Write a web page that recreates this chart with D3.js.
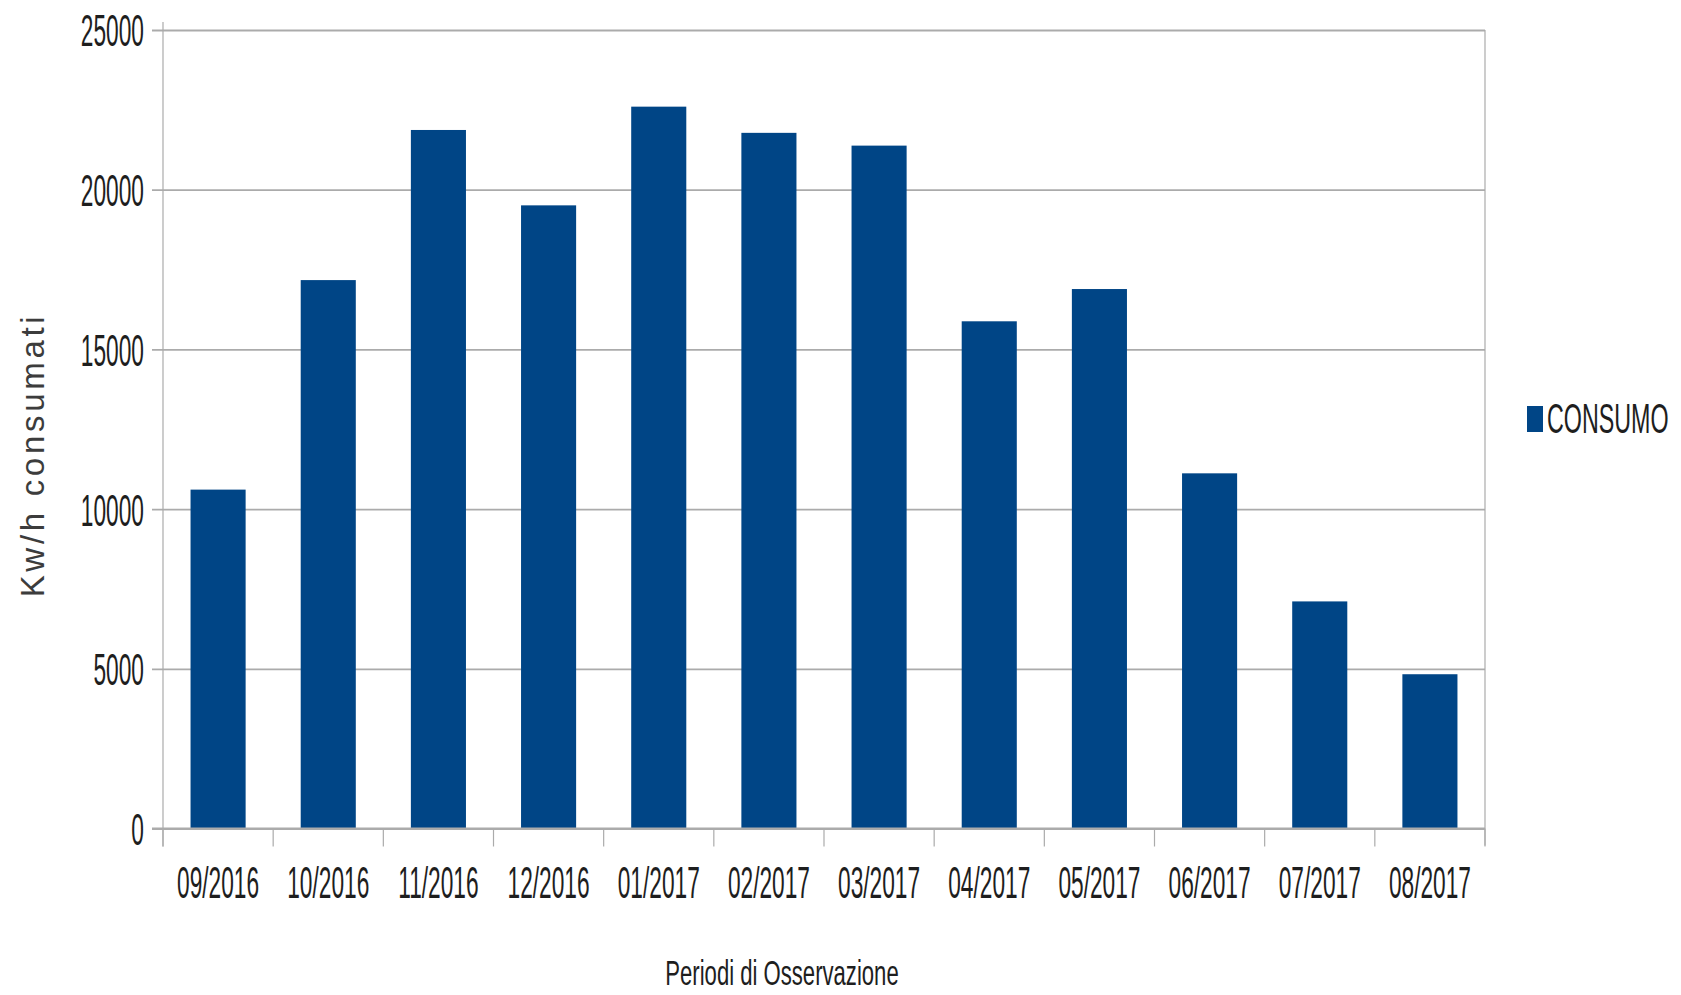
<!DOCTYPE html>
<html>
<head>
<meta charset="utf-8">
<script src="https://cdn.jsdelivr.net/npm/d3@7"></script>
<style>
  html, body { margin: 0; padding: 0; background: #ffffff; }
  svg { display: block; }
  text { font-family: "Liberation Sans", Arial, sans-serif; fill: #1e1e1e; }
</style>
</head>
<body>
<svg id="chart" width="1681" height="995"></svg>
<script>
// Monthly electricity consumption, Sept 2016 – Aug 2017
const categories = ["09/2016", "10/2016", "11/2016", "12/2016", "01/2017", "02/2017",
                    "03/2017", "04/2017", "05/2017", "06/2017", "07/2017", "08/2017"];
const consumo = [10610, 17170, 21870, 19510, 22600, 21780, 21380, 15880, 16890, 11120, 7110, 4830];
const yTicks = [0, 5000, 10000, 15000, 20000, 25000];
const seriesName = "CONSUMO";
const xTitle = "Periodi di Osservazione";
const yTitle = "Kw/h consumati";

const barColor = "#004586";
const gridColor = "#ababab";

const plot = { left: 163, right: 1485, top: 30, bottom: 828.5 };

const svg = d3.select("#chart");

const x = d3.scaleBand()
  .domain(categories)
  .range([plot.left, plot.right])
  .paddingInner(0.5)
  .paddingOuter(0.25);

const y = d3.scaleLinear()
  .domain([0, 25000])
  .range([plot.bottom, plot.top]);

// horizontal gridlines (with the short outward tick on the left)
const tickOut = 11;
const grid = svg.append("g")
  .attr("transform", `translate(${plot.left - tickOut},0)`)
  .call(d3.axisLeft(y).tickValues(yTicks).tickSize(-(plot.right - plot.left + tickOut)).tickFormat(""));
grid.select(".domain").remove();
grid.selectAll(".tick line").attr("stroke", gridColor).attr("stroke-width", 1.8);

// bars
svg.append("g")
  .selectAll("rect")
  .data(consumo)
  .join("rect")
  .attr("x", (d, i) => x(categories[i]))
  .attr("width", x.bandwidth())
  .attr("y", d => y(d))
  .attr("height", d => y(0) - y(d))
  .attr("fill", barColor);

// y axis labels (condensed, vertically stretched type)
const yAxis = svg.append("g")
  .attr("transform", `translate(${plot.left},0)`)
  .call(d3.axisLeft(y).tickValues(yTicks).tickSize(0).tickFormat(d3.format("d")));
yAxis.select(".domain").remove();
yAxis.selectAll(".tick text")
  .attr("x", null).attr("dy", null)
  .attr("text-anchor", "end")
  .attr("font-size", 27.7)
  .attr("transform", "translate(-19,15.9) scale(0.82,1.62)");

// x axis labels
const xAxis = svg.append("g")
  .attr("transform", `translate(0,${plot.bottom})`)
  .call(d3.axisBottom(x).tickSize(0));
xAxis.select(".domain").remove();
xAxis.selectAll(".tick text")
  .attr("y", null).attr("dy", null)
  .attr("text-anchor", "middle")
  .attr("font-size", 27.7)
  .attr("transform", "translate(0,69.5) scale(0.82,1.62)");

// category boundary ticks below the axis
const boundaries = categories.map(c => x(c) - x.step() * x.paddingOuter()).concat([plot.right]);
svg.append("g")
  .selectAll("line")
  .data(boundaries)
  .join("line")
  .attr("x1", d => d).attr("x2", d => d)
  .attr("y1", plot.bottom).attr("y2", plot.bottom + 18)
  .attr("stroke", gridColor).attr("stroke-width", 1.2);

// vertical axis line and right frame
svg.append("line")
  .attr("x1", plot.left).attr("x2", plot.left)
  .attr("y1", plot.top - 8).attr("y2", plot.bottom + 18)
  .attr("stroke", gridColor).attr("stroke-width", 1.2);
svg.append("line")
  .attr("x1", plot.right).attr("x2", plot.right)
  .attr("y1", plot.top).attr("y2", plot.bottom + 17)
  .attr("stroke", gridColor).attr("stroke-width", 1.2);
// x axis line
svg.append("line")
  .attr("x1", plot.left - tickOut).attr("x2", plot.right)
  .attr("y1", plot.bottom).attr("y2", plot.bottom)
  .attr("stroke", gridColor).attr("stroke-width", 1.8);

// axis titles
svg.append("text")
  .attr("text-anchor", "middle")
  .attr("font-size", 22.1)
  .attr("transform", "translate(782,985) scale(1,1.62)")
  .text(xTitle);

svg.append("text")
  .attr("text-anchor", "middle")
  .attr("font-size", 33)
  .attr("letter-spacing", 3.7)
  .style("fill", "#3c3c3c")
  .attr("transform", "translate(44,455) rotate(-90)")
  .text(yTitle);

// legend
const legend = svg.append("g");
legend.append("rect")
  .attr("x", 1527).attr("y", 406)
  .attr("width", 16).attr("height", 26)
  .attr("fill", barColor);
legend.append("text")
  .attr("font-size", 23.3)
  .attr("transform", "translate(1547,433.3) scale(1,1.8)")
  .text(seriesName);
</script>
</body>
</html>
